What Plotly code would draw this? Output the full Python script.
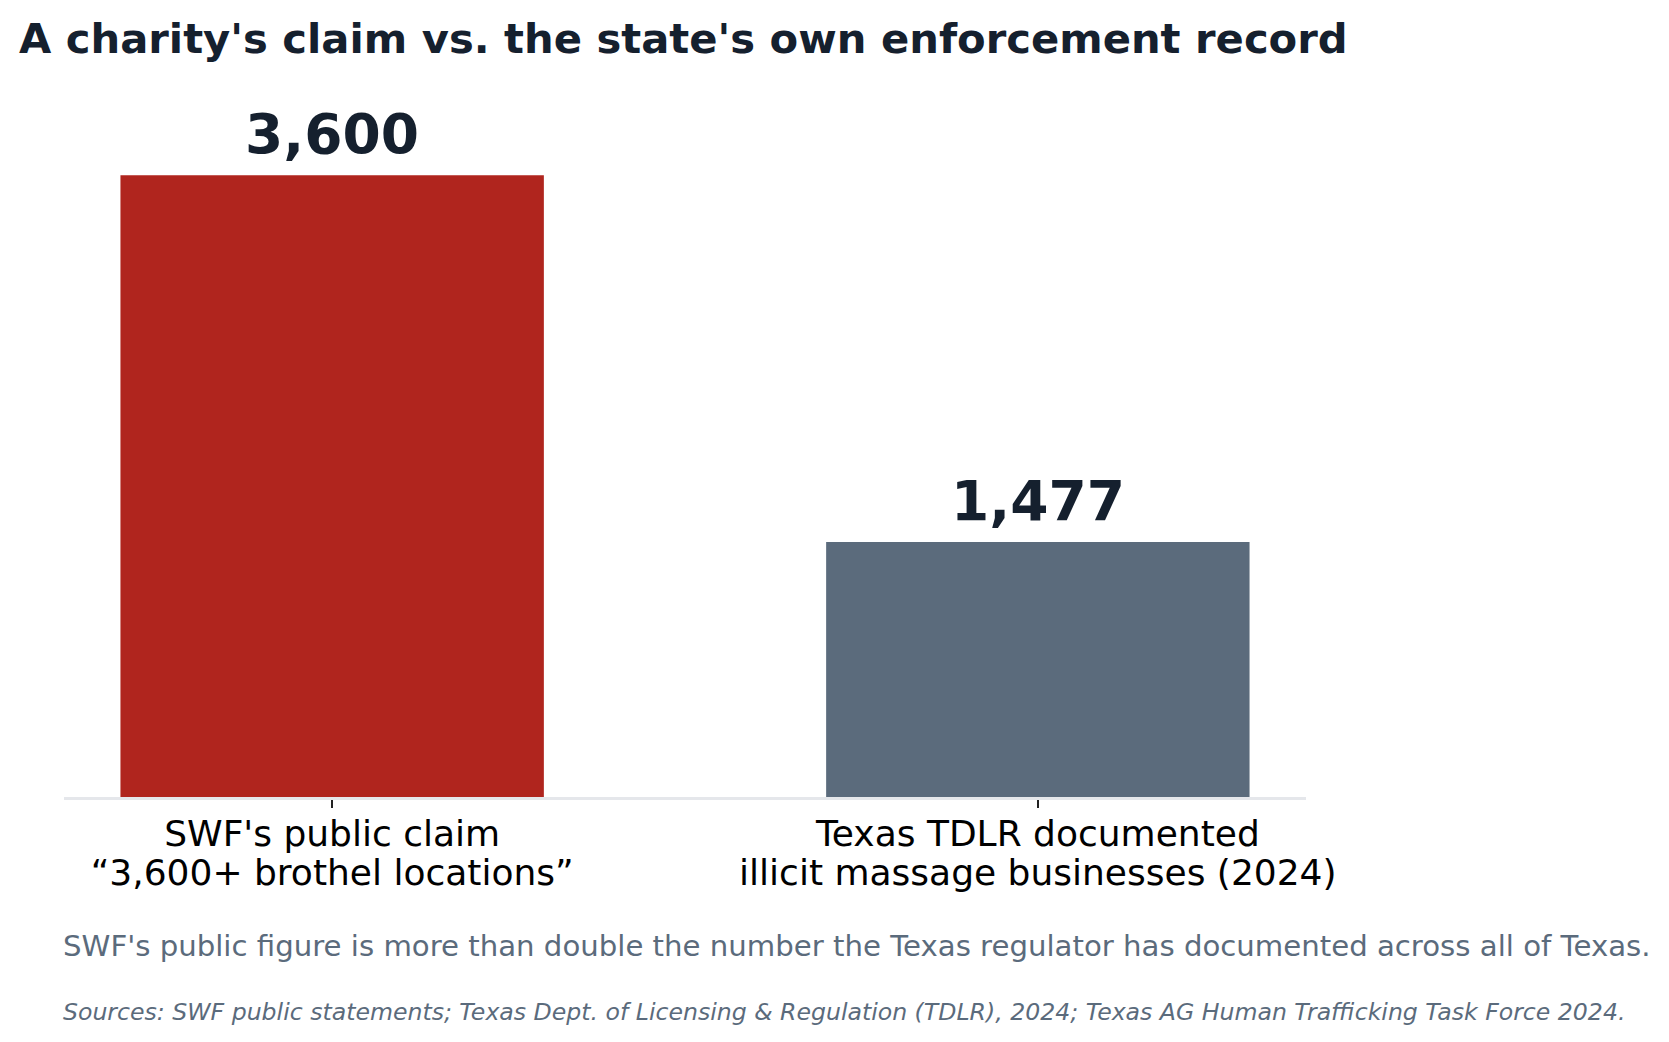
import plotly.graph_objects as go

# Data
categories = ["SWF's public claim", "Texas TDLR documented"]
tick_line1 = ["SWF's public claim", "Texas TDLR documented"]
tick_line2 = ["\u201c3,600+ brothel locations\u201d", "illicit massage businesses (2024)"]
values = [3600, 1477]
value_labels = ["3,600", "1,477"]
bar_colors = ["#b0251e", "#5b6b7c"]

title_text = "A charity's claim vs. the state's own enforcement record"
subtitle_text = ("SWF's public figure is more than double the number the Texas "
                 "regulator has documented across all of Texas.")
source_text = ("Sources: SWF public statements; Texas Dept. of Licensing & Regulation "
               "(TDLR), 2024; Texas AG Human Trafficking Task Force 2024.")

FONT = "DejaVu Sans"
DARK = "#15202e"
GREY = "#5b6b7c"

# two-line tick labels, bigger glyphs than the base size so the lines sit tighter
tick_labels = [
    f'<span style="font-size:36px">{a}</span><br><span style="font-size:36px">{b}</span>'
    for a, b in zip(tick_line1, tick_line2)
]

fig = go.Figure(go.Bar(
    x=categories,
    y=values,
    marker=dict(color=bar_colors, line=dict(width=0)),
    hoverinfo="skip",
))

# value labels above the bars
for cat, val, lab in zip(categories, values, value_labels):
    fig.add_annotation(
        x=cat, y=val, text=f"<b>{lab}</b>", showarrow=False,
        yanchor="middle", yshift=41,
        font=dict(family=FONT, size=55, color=DARK),
    )

fig.add_annotation(
    xref="paper", yref="paper", x=0, y=-0.2078, xanchor="left", yanchor="middle",
    xshift=-3, text=subtitle_text, showarrow=False,
    font=dict(family=FONT, size=29.2, color=GREY),
)
fig.add_annotation(
    xref="paper", yref="paper", x=0, y=-0.3003, xanchor="left", yanchor="middle",
    xshift=-3, text=f"<i>{source_text}</i>", showarrow=False,
    font=dict(family=FONT, size=23.6, color=GREY),
)

fig.update_layout(
    width=1669, height=1042,
    margin=dict(l=56, r=371, t=74, b=253),
    paper_bgcolor="white", plot_bgcolor="white",
    bargap=0.4,
    showlegend=False,
    font=dict(family=FONT, color="black"),
    title=dict(
        text=f"<b>{title_text}</b>",
        xref="container", yref="container",
        x=0.0066, y=0.9708, xanchor="left", yanchor="middle",
        font=dict(family=FONT, size=41.7, color=DARK),
    ),
    xaxis=dict(
        type="category",
        range=[-0.38, 1.38],
        tickvals=categories, ticktext=tick_labels,
        tickfont=dict(family=FONT, size=29.5, color="black"),
        ticklabelstandoff=3,
        showline=True, linecolor="#e5e7eb", linewidth=2.5,
        ticks="outside", ticklen=8, tickwidth=1.5, tickcolor="#222222",
        showgrid=False, zeroline=False,
    ),
    yaxis=dict(range=[0, 4140], visible=False, showgrid=False),
)

fig.write_html("out.html")
